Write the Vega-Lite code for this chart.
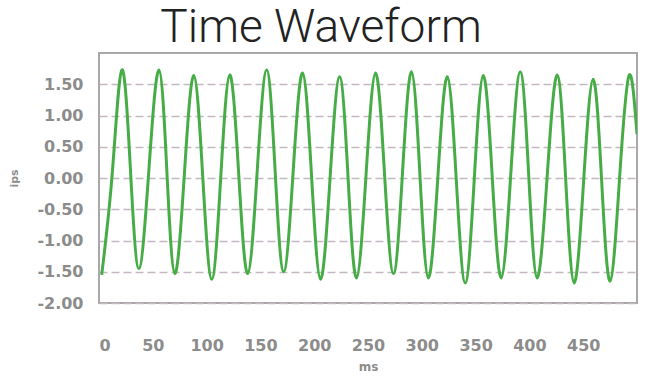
{
  "$schema": "https://vega.github.io/schema/vega-lite/v6.json",
  "width": 538,
  "height": 250,
  "autosize": {"type": "none"},
  "padding": {"left": 99, "top": 53, "right": 18, "bottom": 86},
  "background": "white",
  "title": {"text": "Time Waveform", "fontSize": 46, "font": "Roboto", "fontWeight": 300, "color": "#222222", "anchor": "middle", "frame": "group", "dx": -47, "dy": 45, "offset": 0, "baseline": "bottom"},
  "config": {"view": {"stroke": "#a8a8a8", "strokeWidth": 2}},
  "data": {"values": [
    {"ms": 2.5, "ips": -1.55},
    {"ms": 12.4, "ips": 0.09},
    {"ms": 21.3, "ips": 1.73},
    {"ms": 29.2, "ips": 0.14},
    {"ms": 37.1, "ips": -1.45},
    {"ms": 46.4, "ips": 0.14},
    {"ms": 55.7, "ips": 1.73},
    {"ms": 63.1, "ips": 0.1},
    {"ms": 70.5, "ips": -1.53},
    {"ms": 79.3, "ips": 0.05},
    {"ms": 88.1, "ips": 1.64},
    {"ms": 96.45, "ips": 0.01},
    {"ms": 104.8, "ips": -1.62},
    {"ms": 113.15, "ips": 0.01},
    {"ms": 121.5, "ips": 1.65},
    {"ms": 129.85, "ips": 0.06},
    {"ms": 138.2, "ips": -1.53},
    {"ms": 147.0, "ips": 0.1},
    {"ms": 155.8, "ips": 1.73},
    {"ms": 163.7, "ips": 0.11},
    {"ms": 171.6, "ips": -1.5},
    {"ms": 180.4, "ips": 0.09},
    {"ms": 189.2, "ips": 1.68},
    {"ms": 197.55, "ips": 0.03},
    {"ms": 205.9, "ips": -1.62},
    {"ms": 214.75, "ips": 0.0},
    {"ms": 223.6, "ips": 1.62},
    {"ms": 231.45, "ips": 0.01},
    {"ms": 239.3, "ips": -1.6},
    {"ms": 248.15, "ips": 0.04},
    {"ms": 257.0, "ips": 1.68},
    {"ms": 265.35, "ips": 0.07},
    {"ms": 273.7, "ips": -1.53},
    {"ms": 282.05, "ips": 0.08},
    {"ms": 290.4, "ips": 1.7},
    {"ms": 298.25, "ips": 0.05},
    {"ms": 306.1, "ips": -1.6},
    {"ms": 314.9, "ips": 0.01},
    {"ms": 323.7, "ips": 1.62},
    {"ms": 332.05, "ips": -0.03},
    {"ms": 340.4, "ips": -1.68},
    {"ms": 348.75, "ips": -0.02},
    {"ms": 357.1, "ips": 1.64},
    {"ms": 365.45, "ips": 0.02},
    {"ms": 373.8, "ips": -1.6},
    {"ms": 382.65, "ips": 0.05},
    {"ms": 391.5, "ips": 1.7},
    {"ms": 399.35, "ips": 0.05},
    {"ms": 407.2, "ips": -1.6},
    {"ms": 416.5, "ips": 0.02},
    {"ms": 425.8, "ips": 1.65},
    {"ms": 433.7, "ips": -0.01},
    {"ms": 441.6, "ips": -1.68},
    {"ms": 450.4, "ips": -0.05},
    {"ms": 459.2, "ips": 1.58},
    {"ms": 467.1, "ips": -0.03},
    {"ms": 475.0, "ips": -1.65},
    {"ms": 483.8, "ips": 0.0},
    {"ms": 492.6, "ips": 1.64},
    {"ms": 500.0, "ips": 0.7}
  ]},
  "mark": {"type": "line", "interpolate": "natural", "color": "#46ad46", "strokeWidth": 3, "clip": true},
  "encoding": {
    "x": {
      "field": "ms", "type": "quantitative",
      "scale": {"domain": [0, 500], "nice": false, "zero": false},
      "axis": {
        "title": "ms", "values": [0, 50, 100, 150, 200, 250, 300, 350, 400, 450],
        "grid": false, "domain": false, "ticks": false,
        "labelPadding": 42, "labelBaseline": "middle",
        "labelFont": "DejaVu Sans", "labelFontWeight": "bold", "labelFontSize": 16, "labelColor": "#8c8c8c",
        "titleFont": "DejaVu Sans", "titleFontSize": 12, "titleFontWeight": "bold", "titleColor": "#8c8c8c", "titlePadding": 8
      }
    },
    "y": {
      "field": "ips", "type": "quantitative",
      "scale": {"domain": [-2, 2], "nice": false},
      "axis": {
        "title": "ips", "values": [-2, -1.5, -1, -0.5, 0, 0.5, 1, 1.5],
        "labelExpr": "replace(format(datum.value, '.2f'), '\u2212', '-')",
        "grid": true, "gridDash": [8, 4], "gridColor": "#c4b8c2", "gridWidth": 1.5,
        "domain": false, "ticks": false,
        "labelPadding": 16, "labelBaseline": "middle",
        "labelFont": "DejaVu Sans", "labelFontWeight": "bold", "labelFontSize": 16, "labelColor": "#8c8c8c",
        "titleFont": "DejaVu Sans", "titleFontSize": 11, "titleFontWeight": "bold", "titleColor": "#8c8c8c", "titlePadding": 17
      }
    }
  }
}
